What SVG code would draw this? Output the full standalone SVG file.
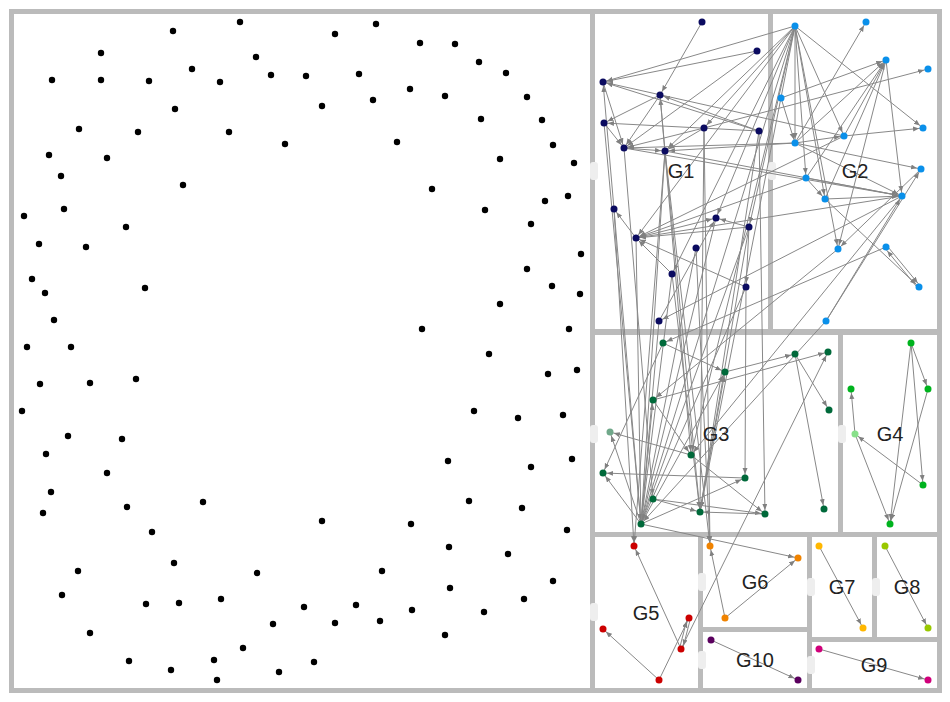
<svg xmlns="http://www.w3.org/2000/svg" width="950" height="702" viewBox="0 0 950 702">
<style>
.pn{fill:#fff}
.hd{fill:#eeeeee}
.e{stroke:#888;stroke-width:1;fill:none;marker-end:url(#ar)}
.k circle{fill:#000}
.lb{font-family:"Liberation Sans",Arial,sans-serif;font-size:20px;fill:#222;text-anchor:middle}
.g1{fill:#0b0b60}.g2{fill:#0a90ea}.g3{fill:#00693a}.g3l{fill:#70a88a}.g4{fill:#00b31e}.g4l{fill:#88e08a}
.g5{fill:#cc0000}.g6{fill:#f08300}.g7{fill:#ffb700}.g8{fill:#99c800}.g9{fill:#d0007a}.g10{fill:#5a005e}
</style>
<defs>
<marker id="ar" markerUnits="userSpaceOnUse" markerWidth="7" markerHeight="6" refX="10" refY="2.5" orient="auto"><path d="M0,0L6,2.5L0,5Z" fill="#808080"/></marker>
</defs>
<rect x="9" y="9" width="933" height="684" fill="#bbbbbb"/>
<g id="panels">
<rect class="pn" x="14" y="14" width="576" height="674"/>
<rect class="pn" x="595" y="14" width="173" height="315"/>
<rect class="pn" x="773" y="14" width="164" height="315"/>
<rect class="pn" x="595" y="335" width="243" height="197"/>
<rect class="pn" x="843" y="335" width="94" height="197"/>
<rect class="pn" x="595" y="537" width="103" height="151"/>
<rect class="pn" x="703" y="537" width="104" height="90"/>
<rect class="pn" x="703" y="632" width="104" height="56"/>
<rect class="pn" x="812" y="537" width="60" height="100"/>
<rect class="pn" x="877" y="537" width="60" height="100"/>
<rect class="pn" x="812" y="642" width="125" height="46"/>
</g>
<g id="handles">
<rect class="hd" x="590" y="162" width="8" height="18" rx="3"/>
<rect class="hd" x="768" y="162" width="8" height="18" rx="3"/>
<rect class="hd" x="590" y="425" width="8" height="18" rx="3"/>
<rect class="hd" x="838" y="425" width="8" height="18" rx="3"/>
<rect class="hd" x="590" y="603" width="8" height="18" rx="3"/>
<rect class="hd" x="698" y="573" width="8" height="18" rx="3"/>
<rect class="hd" x="698" y="651" width="8" height="18" rx="3"/>
<rect class="hd" x="807" y="578" width="8" height="18" rx="3"/>
<rect class="hd" x="872" y="578" width="8" height="18" rx="3"/>
<rect class="hd" x="807" y="656" width="8" height="18" rx="3"/>
</g>
<g id="connectors">
<line class="e" x1="702" y1="22" x2="660" y2="95"/>
<line class="e" x1="757" y1="51" x2="603" y2="82"/>
<line class="e" x1="757" y1="51" x2="624" y2="148"/>
<line class="e" x1="603" y1="82" x2="624" y2="148"/>
<line class="e" x1="604" y1="123" x2="624" y2="148"/>
<line class="e" x1="660" y1="95" x2="624" y2="148"/>
<line class="e" x1="624" y1="148" x2="665" y2="151"/>
<line class="e" x1="704" y1="128" x2="665" y2="151"/>
<line class="e" x1="704" y1="128" x2="624" y2="148"/>
<line class="e" x1="759" y1="131" x2="660" y2="95"/>
<line class="e" x1="660" y1="95" x2="604" y2="123"/>
<line class="e" x1="614" y1="209" x2="603" y2="82"/>
<line class="e" x1="665" y1="151" x2="660" y2="95"/>
<line class="e" x1="636" y1="238" x2="614" y2="209"/>
<line class="e" x1="749" y1="227" x2="636" y2="238"/>
<line class="e" x1="636" y1="238" x2="716" y2="218"/>
<line class="e" x1="749" y1="227" x2="716" y2="218"/>
<line class="e" x1="746" y1="287" x2="636" y2="238"/>
<line class="e" x1="672" y1="274" x2="636" y2="238"/>
<line class="e" x1="749" y1="227" x2="746" y2="287"/>
<line class="e" x1="759" y1="131" x2="603" y2="82"/>
<line class="e" x1="759" y1="131" x2="604" y2="123"/>
<line class="e" x1="659" y1="321" x2="716" y2="218"/>
<line class="e" x1="795" y1="26" x2="603" y2="82"/>
<line class="e" x1="795" y1="26" x2="704" y2="128"/>
<line class="e" x1="795" y1="26" x2="665" y2="151"/>
<line class="e" x1="795" y1="26" x2="636" y2="238"/>
<line class="e" x1="795" y1="26" x2="672" y2="274"/>
<line class="e" x1="795" y1="26" x2="716" y2="218"/>
<line class="e" x1="795" y1="26" x2="749" y2="227"/>
<line class="e" x1="844" y1="136" x2="603" y2="82"/>
<line class="e" x1="795" y1="143" x2="624" y2="148"/>
<line class="e" x1="795" y1="143" x2="665" y2="151"/>
<line class="e" x1="844" y1="136" x2="636" y2="238"/>
<line class="e" x1="806" y1="178" x2="636" y2="238"/>
<line class="e" x1="902" y1="196" x2="636" y2="238"/>
<line class="e" x1="902" y1="196" x2="659" y2="321"/>
<line class="e" x1="704" y1="128" x2="928" y2="69"/>
<line class="e" x1="624" y1="148" x2="902" y2="196"/>
<line class="e" x1="665" y1="151" x2="902" y2="196"/>
<line class="e" x1="795" y1="26" x2="923" y2="128"/>
<line class="e" x1="795" y1="26" x2="844" y2="136"/>
<line class="e" x1="795" y1="26" x2="795" y2="143"/>
<line class="e" x1="795" y1="26" x2="806" y2="178"/>
<line class="e" x1="795" y1="26" x2="825" y2="199"/>
<line class="e" x1="795" y1="26" x2="838" y2="249"/>
<line class="e" x1="781" y1="98" x2="886" y2="60"/>
<line class="e" x1="795" y1="143" x2="886" y2="60"/>
<line class="e" x1="844" y1="136" x2="886" y2="60"/>
<line class="e" x1="806" y1="178" x2="886" y2="60"/>
<line class="e" x1="825" y1="199" x2="886" y2="60"/>
<line class="e" x1="795" y1="143" x2="866" y2="22"/>
<line class="e" x1="886" y1="60" x2="902" y2="196"/>
<line class="e" x1="825" y1="199" x2="902" y2="196"/>
<line class="e" x1="806" y1="178" x2="902" y2="196"/>
<line class="e" x1="795" y1="143" x2="902" y2="196"/>
<line class="e" x1="887.2" y1="246" x2="920.2" y2="286"/>
<line class="e" x1="917.8" y1="288" x2="884.8" y2="248"/>
<line class="e" x1="825" y1="199" x2="919" y2="287"/>
<line class="e" x1="826" y1="321" x2="921" y2="169"/>
<line class="e" x1="826" y1="321" x2="902" y2="196"/>
<line class="e" x1="844" y1="136" x2="923" y2="128"/>
<line class="e" x1="795" y1="143" x2="844" y2="136"/>
<line class="e" x1="795" y1="143" x2="921" y2="169"/>
<line class="e" x1="806" y1="178" x2="825" y2="199"/>
<line class="e" x1="781" y1="98" x2="795" y2="143"/>
<line class="e" x1="886" y1="60" x2="838" y2="249"/>
<line class="e" x1="921" y1="169" x2="838" y2="249"/>
<line class="e" x1="604" y1="123" x2="641" y2="524"/>
<line class="e" x1="614" y1="209" x2="641" y2="524"/>
<line class="e" x1="624" y1="148" x2="653" y2="499"/>
<line class="e" x1="636" y1="238" x2="641" y2="524"/>
<line class="e" x1="665" y1="151" x2="641" y2="524"/>
<line class="e" x1="660" y1="95" x2="691" y2="455"/>
<line class="e" x1="665" y1="151" x2="700" y2="512"/>
<line class="e" x1="704" y1="128" x2="700" y2="512"/>
<line class="e" x1="672" y1="274" x2="700" y2="512"/>
<line class="e" x1="672" y1="274" x2="641" y2="524"/>
<line class="e" x1="716" y1="218" x2="641" y2="524"/>
<line class="e" x1="749" y1="227" x2="641" y2="524"/>
<line class="e" x1="749" y1="227" x2="700" y2="512"/>
<line class="e" x1="746" y1="287" x2="745" y2="478"/>
<line class="e" x1="746" y1="287" x2="641" y2="524"/>
<line class="e" x1="659" y1="321" x2="641" y2="524"/>
<line class="e" x1="696" y1="248" x2="641" y2="524"/>
<line class="e" x1="759" y1="131" x2="765" y2="514"/>
<line class="e" x1="759" y1="131" x2="700" y2="512"/>
<line class="e" x1="795" y1="26" x2="700" y2="512"/>
<line class="e" x1="795" y1="26" x2="691" y2="455"/>
<line class="e" x1="795" y1="26" x2="641" y2="524"/>
<line class="e" x1="838" y1="249" x2="653" y2="400"/>
<line class="e" x1="826" y1="321" x2="641" y2="524"/>
<line class="e" x1="902" y1="196" x2="691" y2="455"/>
<line class="e" x1="886" y1="247" x2="663" y2="343"/>
<line class="e" x1="614" y1="209" x2="634" y2="546"/>
<line class="e" x1="665" y1="151" x2="634" y2="546"/>
<line class="e" x1="704" y1="128" x2="710" y2="546"/>
<line class="e" x1="696" y1="248" x2="710" y2="546"/>
<line class="e" x1="665" y1="151" x2="710" y2="546"/>
<line class="e" x1="681" y1="649" x2="828" y2="352"/>
<line class="e" x1="663" y1="343" x2="725" y2="372"/>
<line class="e" x1="725" y1="372" x2="795" y2="354"/>
<line class="e" x1="653" y1="400" x2="828" y2="352"/>
<line class="e" x1="795" y1="354" x2="829" y2="410"/>
<line class="e" x1="795" y1="354" x2="824" y2="509"/>
<line class="e" x1="691" y1="455" x2="610" y2="432"/>
<line class="e" x1="745" y1="478" x2="603" y2="473"/>
<line class="e" x1="641" y1="524" x2="603" y2="473"/>
<line class="e" x1="641" y1="524" x2="745" y2="478"/>
<line class="e" x1="653" y1="499" x2="700" y2="512"/>
<line class="e" x1="653" y1="499" x2="765" y2="514"/>
<line class="e" x1="765" y1="514" x2="700" y2="512"/>
<line class="e" x1="691" y1="455" x2="765" y2="514"/>
<line class="e" x1="653" y1="400" x2="691" y2="455"/>
<line class="e" x1="663" y1="343" x2="603" y2="473"/>
<line class="e" x1="641" y1="524" x2="610" y2="432"/>
<line class="e" x1="641" y1="524" x2="725" y2="372"/>
<line class="e" x1="700" y1="512" x2="725" y2="372"/>
<line class="e" x1="641" y1="524" x2="653" y2="400"/>
<line class="e" x1="641" y1="524" x2="798" y2="558"/>
<line class="e" x1="911" y1="343" x2="928" y2="389"/>
<line class="e" x1="911" y1="343" x2="923" y2="485"/>
<line class="e" x1="911" y1="343" x2="890" y2="524"/>
<line class="e" x1="928" y1="389" x2="890" y2="524"/>
<line class="e" x1="855" y1="434" x2="851" y2="389"/>
<line class="e" x1="855" y1="434" x2="890" y2="524"/>
<line class="e" x1="923" y1="485" x2="855" y2="434"/>
<line class="e" x1="659" y1="680" x2="603" y2="629"/>
<line class="e" x1="659" y1="680" x2="689" y2="618"/>
<line class="e" x1="690.5" y1="618.4" x2="682.5" y2="649.4"/>
<line class="e" x1="679.5" y1="648.6" x2="687.5" y2="617.6"/>
<line class="e" x1="681" y1="649" x2="634" y2="546"/>
<line class="e" x1="725" y1="618" x2="710" y2="546"/>
<line class="e" x1="725" y1="618" x2="798" y2="558"/>
<line class="e" x1="711" y1="640" x2="798" y2="680"/>
<line class="e" x1="819" y1="546" x2="863" y2="628"/>
<line class="e" x1="885" y1="546" x2="928" y2="628"/>
<line class="e" x1="819" y1="649" x2="928" y2="680"/>
</g>
<g id="isolated" class="k">
<g id="u1"><circle cx="240" cy="22" r="3.2"/></g>
<g id="u2"><circle cx="173" cy="31" r="3.2"/></g>
<g id="u3"><circle cx="101" cy="53" r="3.2"/></g>
<g id="u4"><circle cx="256" cy="57" r="3.2"/></g>
<g id="u5"><circle cx="192" cy="69" r="3.2"/></g>
<g id="u6"><circle cx="271" cy="75" r="3.2"/></g>
<g id="u7"><circle cx="52" cy="80" r="3.2"/></g>
<g id="u8"><circle cx="101" cy="80" r="3.2"/></g>
<g id="u9"><circle cx="149" cy="81" r="3.2"/></g>
<g id="u10"><circle cx="220" cy="82" r="3.2"/></g>
<g id="u11"><circle cx="175" cy="109" r="3.2"/></g>
<g id="u12"><circle cx="79" cy="129" r="3.2"/></g>
<g id="u13"><circle cx="138" cy="132" r="3.2"/></g>
<g id="u14"><circle cx="229" cy="132" r="3.2"/></g>
<g id="u15"><circle cx="285" cy="144" r="3.2"/></g>
<g id="u16"><circle cx="49" cy="155" r="3.2"/></g>
<g id="u17"><circle cx="107" cy="158" r="3.2"/></g>
<g id="u18"><circle cx="61" cy="176" r="3.2"/></g>
<g id="u19"><circle cx="183" cy="185" r="3.2"/></g>
<g id="u20"><circle cx="64" cy="209" r="3.2"/></g>
<g id="u21"><circle cx="24" cy="216" r="3.2"/></g>
<g id="u22"><circle cx="126" cy="227" r="3.2"/></g>
<g id="u23"><circle cx="39" cy="244" r="3.2"/></g>
<g id="u24"><circle cx="86" cy="247" r="3.2"/></g>
<g id="u25"><circle cx="32" cy="279" r="3.2"/></g>
<g id="u26"><circle cx="45" cy="293" r="3.2"/></g>
<g id="u27"><circle cx="145" cy="288" r="3.2"/></g>
<g id="u28"><circle cx="54" cy="320" r="3.2"/></g>
<g id="u29"><circle cx="27" cy="347" r="3.2"/></g>
<g id="u30"><circle cx="71" cy="347" r="3.2"/></g>
<g id="u31"><circle cx="376" cy="24" r="3.2"/></g>
<g id="u32"><circle cx="335" cy="34" r="3.2"/></g>
<g id="u33"><circle cx="420" cy="43" r="3.2"/></g>
<g id="u34"><circle cx="455" cy="44" r="3.2"/></g>
<g id="u35"><circle cx="479" cy="62" r="3.2"/></g>
<g id="u36"><circle cx="306" cy="76" r="3.2"/></g>
<g id="u37"><circle cx="359" cy="74" r="3.2"/></g>
<g id="u38"><circle cx="506" cy="73" r="3.2"/></g>
<g id="u39"><circle cx="410" cy="89" r="3.2"/></g>
<g id="u40"><circle cx="445" cy="96" r="3.2"/></g>
<g id="u41"><circle cx="527" cy="97" r="3.2"/></g>
<g id="u42"><circle cx="322" cy="106" r="3.2"/></g>
<g id="u43"><circle cx="373" cy="100" r="3.2"/></g>
<g id="u44"><circle cx="481" cy="119" r="3.2"/></g>
<g id="u45"><circle cx="542" cy="120" r="3.2"/></g>
<g id="u46"><circle cx="397" cy="142" r="3.2"/></g>
<g id="u47"><circle cx="553" cy="145" r="3.2"/></g>
<g id="u48"><circle cx="500" cy="159" r="3.2"/></g>
<g id="u49"><circle cx="574" cy="163" r="3.2"/></g>
<g id="u50"><circle cx="432" cy="189" r="3.2"/></g>
<g id="u51"><circle cx="545" cy="201" r="3.2"/></g>
<g id="u52"><circle cx="568" cy="196" r="3.2"/></g>
<g id="u53"><circle cx="485" cy="210" r="3.2"/></g>
<g id="u54"><circle cx="531" cy="224" r="3.2"/></g>
<g id="u55"><circle cx="581" cy="254" r="3.2"/></g>
<g id="u56"><circle cx="527" cy="269" r="3.2"/></g>
<g id="u57"><circle cx="552" cy="286" r="3.2"/></g>
<g id="u58"><circle cx="580" cy="294" r="3.2"/></g>
<g id="u59"><circle cx="500" cy="304" r="3.2"/></g>
<g id="u60"><circle cx="422" cy="329" r="3.2"/></g>
<g id="u61"><circle cx="569" cy="329" r="3.2"/></g>
<g id="u62"><circle cx="40" cy="384" r="3.2"/></g>
<g id="u63"><circle cx="90" cy="383" r="3.2"/></g>
<g id="u64"><circle cx="136" cy="379" r="3.2"/></g>
<g id="u65"><circle cx="22" cy="411" r="3.2"/></g>
<g id="u66"><circle cx="68" cy="436" r="3.2"/></g>
<g id="u67"><circle cx="122" cy="439" r="3.2"/></g>
<g id="u68"><circle cx="46" cy="454" r="3.2"/></g>
<g id="u69"><circle cx="107" cy="473" r="3.2"/></g>
<g id="u70"><circle cx="51" cy="492" r="3.2"/></g>
<g id="u71"><circle cx="127" cy="507" r="3.2"/></g>
<g id="u72"><circle cx="43" cy="513" r="3.2"/></g>
<g id="u73"><circle cx="203" cy="502" r="3.2"/></g>
<g id="u74"><circle cx="152" cy="532" r="3.2"/></g>
<g id="u75"><circle cx="174" cy="563" r="3.2"/></g>
<g id="u76"><circle cx="78" cy="571" r="3.2"/></g>
<g id="u77"><circle cx="257" cy="573" r="3.2"/></g>
<g id="u78"><circle cx="62" cy="595" r="3.2"/></g>
<g id="u79"><circle cx="146" cy="604" r="3.2"/></g>
<g id="u80"><circle cx="179" cy="603" r="3.2"/></g>
<g id="u81"><circle cx="221" cy="599" r="3.2"/></g>
<g id="u82"><circle cx="90" cy="633" r="3.2"/></g>
<g id="u83"><circle cx="273" cy="624" r="3.2"/></g>
<g id="u84"><circle cx="243" cy="648" r="3.2"/></g>
<g id="u85"><circle cx="129" cy="661" r="3.2"/></g>
<g id="u86"><circle cx="171" cy="670" r="3.2"/></g>
<g id="u87"><circle cx="214" cy="660" r="3.2"/></g>
<g id="u88"><circle cx="217" cy="680" r="3.2"/></g>
<g id="u89"><circle cx="279" cy="672" r="3.2"/></g>
<g id="u90"><circle cx="489" cy="354" r="3.2"/></g>
<g id="u91"><circle cx="548" cy="374" r="3.2"/></g>
<g id="u92"><circle cx="577" cy="370" r="3.2"/></g>
<g id="u93"><circle cx="474" cy="411" r="3.2"/></g>
<g id="u94"><circle cx="518" cy="418" r="3.2"/></g>
<g id="u95"><circle cx="563" cy="415" r="3.2"/></g>
<g id="u96"><circle cx="448" cy="461" r="3.2"/></g>
<g id="u97"><circle cx="531" cy="467" r="3.2"/></g>
<g id="u98"><circle cx="572" cy="459" r="3.2"/></g>
<g id="u99"><circle cx="469" cy="501" r="3.2"/></g>
<g id="u100"><circle cx="522" cy="508" r="3.2"/></g>
<g id="u101"><circle cx="567" cy="530" r="3.2"/></g>
<g id="u102"><circle cx="322" cy="521" r="3.2"/></g>
<g id="u103"><circle cx="411" cy="524" r="3.2"/></g>
<g id="u104"><circle cx="449" cy="547" r="3.2"/></g>
<g id="u105"><circle cx="508" cy="554" r="3.2"/></g>
<g id="u106"><circle cx="382" cy="571" r="3.2"/></g>
<g id="u107"><circle cx="450" cy="588" r="3.2"/></g>
<g id="u108"><circle cx="553" cy="581" r="3.2"/></g>
<g id="u109"><circle cx="524" cy="599" r="3.2"/></g>
<g id="u110"><circle cx="304" cy="607" r="3.2"/></g>
<g id="u111"><circle cx="356" cy="605" r="3.2"/></g>
<g id="u112"><circle cx="335" cy="623" r="3.2"/></g>
<g id="u113"><circle cx="380" cy="621" r="3.2"/></g>
<g id="u114"><circle cx="412" cy="610" r="3.2"/></g>
<g id="u115"><circle cx="484" cy="612" r="3.2"/></g>
<g id="u116"><circle cx="445" cy="635" r="3.2"/></g>
<g id="u117"><circle cx="314" cy="662" r="3.2"/></g>
</g>
<g id="G1nodes" class="g1">
<g id="a1"><circle cx="702" cy="22" r="3.5"/></g>
<g id="a2"><circle cx="757" cy="51" r="3.5"/></g>
<g id="a3"><circle cx="603" cy="82" r="3.5"/></g>
<g id="a4"><circle cx="660" cy="95" r="3.5"/></g>
<g id="a5"><circle cx="604" cy="123" r="3.5"/></g>
<g id="a6"><circle cx="704" cy="128" r="3.5"/></g>
<g id="a7"><circle cx="759" cy="131" r="3.5"/></g>
<g id="a8"><circle cx="624" cy="148" r="3.5"/></g>
<g id="a9"><circle cx="665" cy="151" r="3.5"/></g>
<g id="a10"><circle cx="614" cy="209" r="3.5"/></g>
<g id="a11"><circle cx="716" cy="218" r="3.5"/></g>
<g id="a12"><circle cx="749" cy="227" r="3.5"/></g>
<g id="a13"><circle cx="636" cy="238" r="3.5"/></g>
<g id="a14"><circle cx="696" cy="248" r="3.5"/></g>
<g id="a15"><circle cx="672" cy="274" r="3.5"/></g>
<g id="a16"><circle cx="746" cy="287" r="3.5"/></g>
<g id="a17"><circle cx="659" cy="321" r="3.5"/></g>
</g>
<g id="G2nodes" class="g2">
<g id="b1"><circle cx="795" cy="26" r="3.5"/></g>
<g id="b2"><circle cx="866" cy="22" r="3.5"/></g>
<g id="b3"><circle cx="886" cy="60" r="3.5"/></g>
<g id="b4"><circle cx="928" cy="69" r="3.5"/></g>
<g id="b5"><circle cx="781" cy="98" r="3.5"/></g>
<g id="b6"><circle cx="923" cy="128" r="3.5"/></g>
<g id="b7"><circle cx="844" cy="136" r="3.5"/></g>
<g id="b8"><circle cx="795" cy="143" r="3.5"/></g>
<g id="b9"><circle cx="921" cy="169" r="3.5"/></g>
<g id="b10"><circle cx="806" cy="178" r="3.5"/></g>
<g id="b11"><circle cx="825" cy="199" r="3.5"/></g>
<g id="b12"><circle cx="902" cy="196" r="3.5"/></g>
<g id="b13"><circle cx="838" cy="249" r="3.5"/></g>
<g id="b14"><circle cx="886" cy="247" r="3.5"/></g>
<g id="b15"><circle cx="919" cy="287" r="3.5"/></g>
<g id="b16"><circle cx="826" cy="321" r="3.5"/></g>
</g>
<g id="G3nodes" class="g3">
<g id="c1"><circle cx="663" cy="343" r="3.5"/></g>
<g id="c2"><circle cx="795" cy="354" r="3.5"/></g>
<g id="c3"><circle cx="828" cy="352" r="3.5"/></g>
<g id="c4"><circle cx="725" cy="372" r="3.5"/></g>
<g id="c5"><circle cx="653" cy="400" r="3.5"/></g>
<g id="c6"><circle cx="829" cy="410" r="3.5"/></g>
<g id="c7"><circle class="g3l" cx="610" cy="432" r="3.5"/></g>
<g id="c8"><circle cx="691" cy="455" r="3.5"/></g>
<g id="c9"><circle cx="603" cy="473" r="3.5"/></g>
<g id="c10"><circle cx="745" cy="478" r="3.5"/></g>
<g id="c11"><circle cx="653" cy="499" r="3.5"/></g>
<g id="c12"><circle cx="700" cy="512" r="3.5"/></g>
<g id="c13"><circle cx="765" cy="514" r="3.5"/></g>
<g id="c14"><circle cx="824" cy="509" r="3.5"/></g>
<g id="c15"><circle cx="641" cy="524" r="3.5"/></g>
</g>
<g id="G4nodes" class="g4">
<g id="d1"><circle cx="911" cy="343" r="3.5"/></g>
<g id="d2"><circle cx="851" cy="389" r="3.5"/></g>
<g id="d3"><circle cx="928" cy="389" r="3.5"/></g>
<g id="d4"><circle class="g4l" cx="855" cy="434" r="3.5"/></g>
<g id="d5"><circle cx="923" cy="485" r="3.5"/></g>
<g id="d6"><circle cx="890" cy="524" r="3.5"/></g>
</g>
<g id="G5nodes" class="g5">
<g id="e1"><circle cx="634" cy="546" r="3.5"/></g>
<g id="e2"><circle cx="689" cy="618" r="3.5"/></g>
<g id="e3"><circle cx="603" cy="629" r="3.5"/></g>
<g id="e4"><circle cx="681" cy="649" r="3.5"/></g>
<g id="e5"><circle cx="659" cy="680" r="3.5"/></g>
</g>
<g id="G6nodes" class="g6">
<g id="f1"><circle cx="710" cy="546" r="3.5"/></g>
<g id="f2"><circle cx="798" cy="558" r="3.5"/></g>
<g id="f3"><circle cx="725" cy="618" r="3.5"/></g>
</g>
<g id="G10nodes" class="g10">
<g id="j1"><circle cx="711" cy="640" r="3.5"/></g>
<g id="j2"><circle cx="798" cy="680" r="3.5"/></g>
</g>
<g id="G7nodes" class="g7">
<g id="g1"><circle cx="819" cy="546" r="3.5"/></g>
<g id="g2"><circle cx="863" cy="628" r="3.5"/></g>
</g>
<g id="G8nodes" class="g8">
<g id="h1"><circle cx="885" cy="546" r="3.5"/></g>
<g id="h2"><circle cx="928" cy="628" r="3.5"/></g>
</g>
<g id="G9nodes" class="g9">
<g id="i1"><circle cx="819" cy="649" r="3.5"/></g>
<g id="i2"><circle cx="928" cy="680" r="3.5"/></g>
</g>
<g id="labels" class="lb">
<text x="681" y="178">G1</text>
<text x="855" y="178">G2</text>
<text x="716" y="441">G3</text>
<text x="890" y="441">G4</text>
<text x="646" y="620">G5</text>
<text x="755" y="589">G6</text>
<text x="842" y="594">G7</text>
<text x="907" y="594">G8</text>
<text x="874" y="672">G9</text>
<text x="755" y="667">G10</text>
</g>
</svg>
